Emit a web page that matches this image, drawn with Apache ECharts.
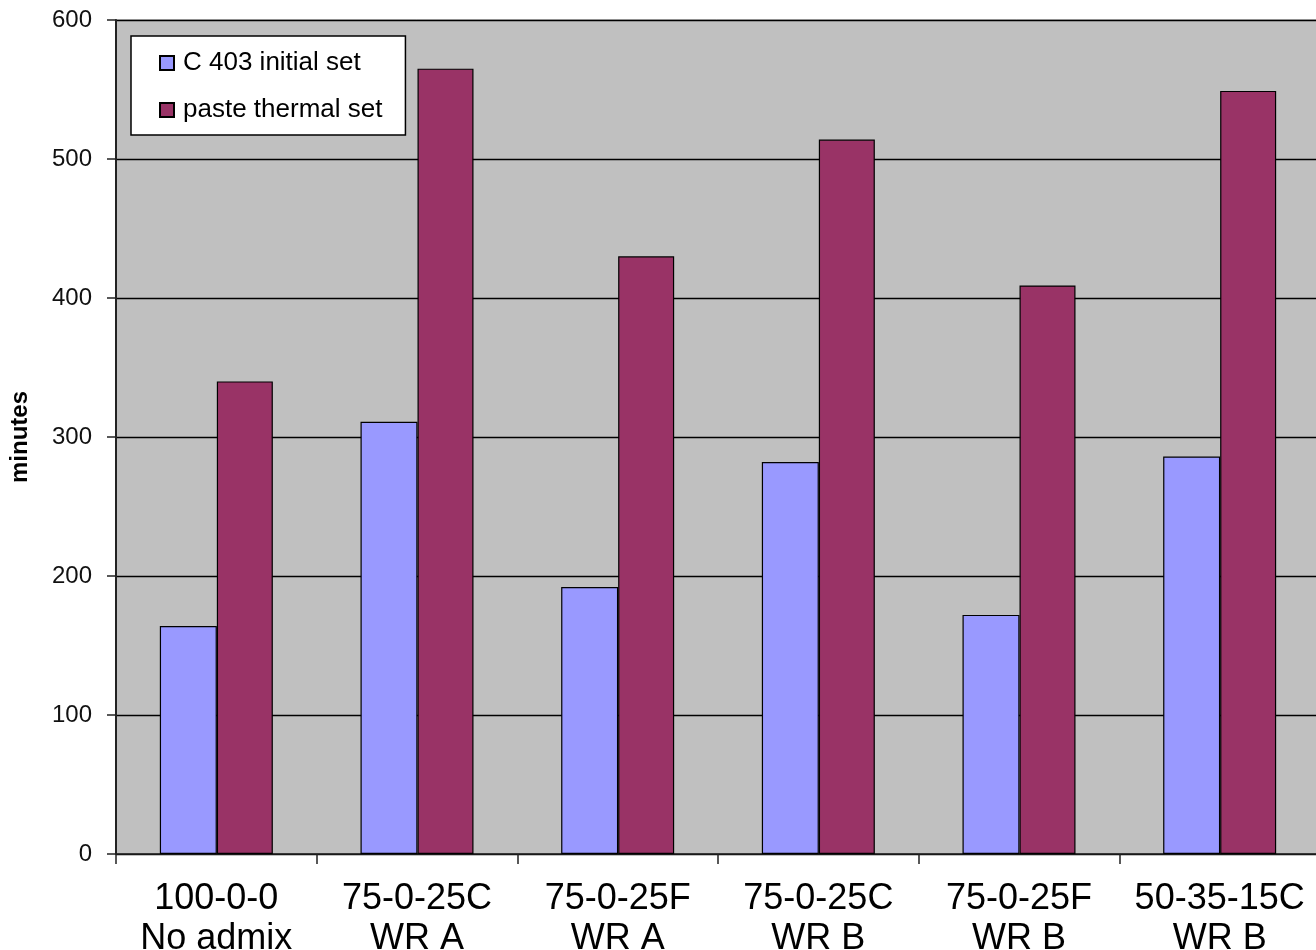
<!DOCTYPE html>
<html>
<head>
<meta charset="utf-8">
<script src="https://cdn.jsdelivr.net/npm/echarts@6/dist/echarts.min.js"></script>
<style>
  html, body { margin: 0; padding: 0; background: #fff; }
  #chart { width: 1316px; height: 950px; }
</style>
</head>
<body>
<div id="chart"></div>
<script>
// Setting times per mix (minutes)
const categories = [
  '100-0-0\nNo admix',
  '75-0-25C\nWR A',
  '75-0-25F\nWR A',
  '75-0-25C\nWR B',
  '75-0-25F\nWR B',
  '50-35-15C\nWR B'
];
const initialSet = [164, 311, 192, 282, 172, 286];
const thermalSet = [340, 565, 430, 514, 409, 549];
const seriesNames = ['C 403 initial set', 'paste thermal set'];
const yTicks = [0, 100, 200, 300, 400, 500, 600];

const chart = echarts.init(document.getElementById('chart'), null, { renderer: 'canvas' });

const barStyle = (color) => ({
  color: color,
  borderColor: '#000',
  borderWidth: 1.2
});

chart.setOption({
  animation: false,
  backgroundColor: '#fff',
  grid: {
    left: 116, top: 20, width: 1204, height: 834,
    outerBoundsMode: 'none',
    containLabel: false,
    show: true,
    backgroundColor: '#C0C0C0',
    borderColor: '#808080',
    borderWidth: 1
  },
  legend: {
    orient: 'vertical',
    left: 131, top: 36,
    backgroundColor: '#fff',
    borderColor: '#000',
    borderWidth: 1.5,
    padding: [14, 23, 12, 28],
    itemWidth: 14, itemHeight: 14,
    itemGap: 21,
    icon: 'rect',
    textStyle: {
      fontFamily: 'Liberation Sans, Arial, sans-serif',
      fontSize: 26,
      lineHeight: 26,
      color: '#000',
      padding: [0, 0, 0, 4]
    },
    data: seriesNames
  },
  xAxis: {
    type: 'category',
    data: categories,
    axisLine: { lineStyle: { color: '#222', width: 1.5 } },
    axisTick: { show: true, length: 10, lineStyle: { color: '#222', width: 1.5 } },
    axisLabel: {
      interval: 0,
      margin: 25,
      fontFamily: 'Liberation Sans, Arial, sans-serif',
      fontSize: 36,
      lineHeight: 40,
      color: '#000'
    },
    splitLine: { show: false }
  },
  yAxis: {
    type: 'value',
    min: yTicks[0],
    max: yTicks[yTicks.length - 1],
    interval: 100,
    name: 'minutes',
    nameLocation: 'middle',
    nameGap: 84,
    nameRotate: 90,
    nameTextStyle: {
      fontFamily: 'Liberation Sans, Arial, sans-serif',
      fontSize: 24,
      fontWeight: 'bold',
      color: '#000'
    },
    axisLine: { show: true, lineStyle: { color: '#222', width: 2 } },
    axisTick: { show: true, length: 9, lineStyle: { color: '#222', width: 1.5 } },
    axisLabel: {
      margin: 24,
      fontFamily: 'Liberation Sans, Arial, sans-serif',
      fontSize: 24,
      color: '#111'
    },
    splitLine: { show: true, lineStyle: { color: '#000', width: 1.3 } }
  },
  series: [
    {
      name: seriesNames[0],
      type: 'bar',
      data: initialSet,
      barWidth: 57,
      barGap: '0%',
      itemStyle: barStyle('#9999FF')
    },
    {
      name: seriesNames[1],
      type: 'bar',
      data: thermalSet,
      barWidth: 56,
      barGap: '0%',
      itemStyle: barStyle('#993366')
    }
  ]
});
</script>
</body>
</html>
